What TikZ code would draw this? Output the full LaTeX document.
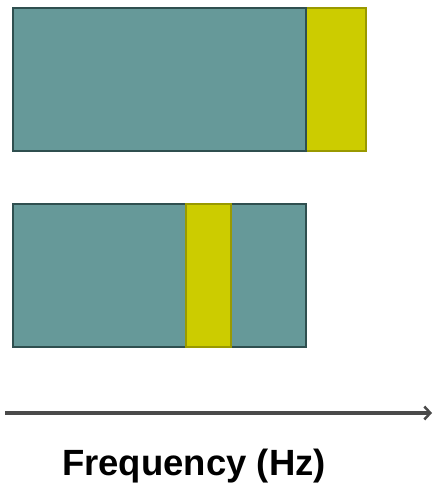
\documentclass[tikz,border=0pt]{standalone}
\usepackage{fontspec}
\setmainfont{Liberation Sans}
\usetikzlibrary{arrows.meta}
\definecolor{bandteal}{HTML}{669999}
\definecolor{bandtealedge}{HTML}{2F4F4F}
\definecolor{bandyellow}{HTML}{CCCC00}
\definecolor{bandyellowedge}{HTML}{999900}
\definecolor{axisgray}{HTML}{4A4A4A}
\tikzset{
  tealband/.style={fill=bandteal, draw=bandtealedge, line width=2.8pt},
  yellowband/.style={fill=bandyellow, draw=bandyellowedge, line width=2.4pt},
  axis/.style={draw=axisgray, line width=4pt, -{Straight Barb[length=6pt,width=13pt,line width=2.5pt]}},
  axislabel/.style={font=\bfseries\fontsize{36.5}{40}\selectfont, text=black}
}
\begin{document}
\begin{tikzpicture}[x=1pt,y=-1pt]
  \useasboundingbox (0,0) rectangle (433,487);
  % upper spectrum: wide band with a yellow band on its right
  \draw[yellowband] (170,8) rectangle (366,151);
  \draw[tealband] (13,8) rectangle (306,151);
  % lower spectrum: yellow band inside the teal band
  \draw[tealband] (13,204) rectangle (306,347);
  \draw[yellowband] (186,204) rectangle (231,347);
  % frequency axis
  \coordinate (axisstart) at (5,413);
  \coordinate (axisend) at (432,413);
  \draw[axis] (axisstart) -- (axisend);
  \node[axislabel] (freq) at (194,466) {Frequency (Hz)};
\end{tikzpicture}
\end{document}
